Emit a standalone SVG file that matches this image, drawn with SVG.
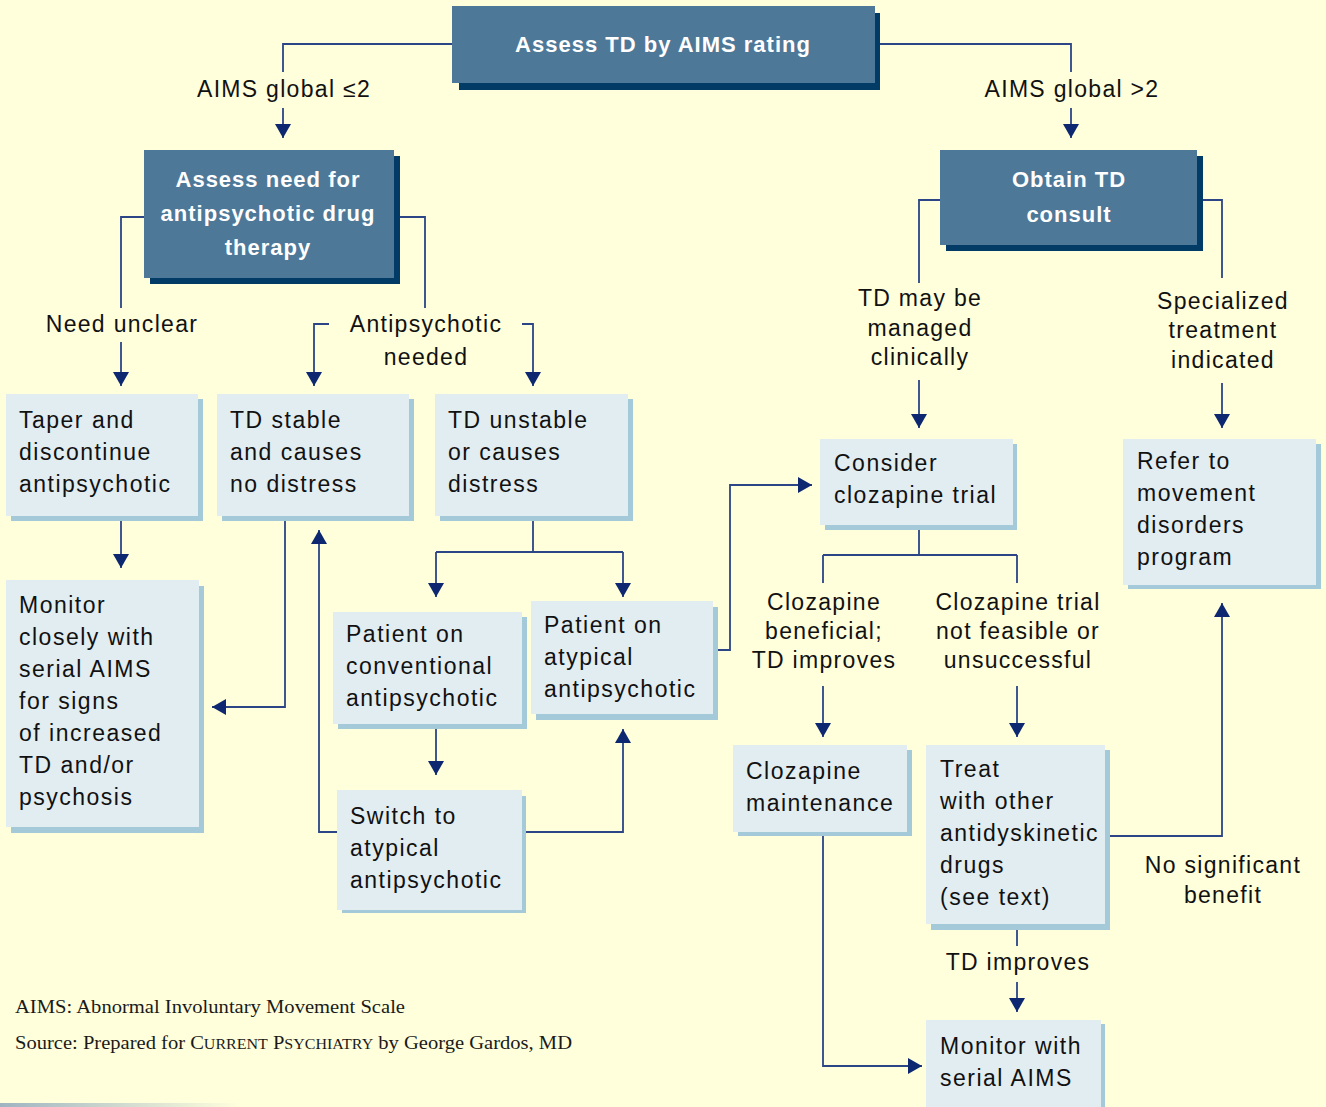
<svg xmlns="http://www.w3.org/2000/svg" width="1326" height="1107" viewBox="0 0 1326 1107">
<style>
.dk{fill:#4E7898}
.dks{fill:#023C66}
.lt{fill:#E2EDF1}
.lts{fill:#A4C9D8}
.wt{font-family:"Liberation Sans",Arial,sans-serif;font-size:22px;font-weight:bold;fill:#ffffff;letter-spacing:1px;text-anchor:middle}
.bt{font-family:"Liberation Sans",Arial,sans-serif;font-size:23px;fill:#111111;letter-spacing:1.5px}
.lb{font-family:"Liberation Sans",Arial,sans-serif;font-size:23px;fill:#111111;letter-spacing:1.3px;text-anchor:middle}
.ft{font-family:"Liberation Serif","Times New Roman",serif;font-size:18px;fill:#1a1a1a}
.c path{fill:none;stroke:#2B4586;stroke-width:1.8}
.c path.a{marker-end:url(#ah)}
</style>
<defs>
<marker id="ah" markerUnits="userSpaceOnUse" markerWidth="16" markerHeight="16" refX="14" refY="8" orient="auto">
<path d="M0,0 L14,8 L0,16 z" fill="#0D2870"/>
</marker>
<linearGradient id="bg" x1="0" y1="0" x2="1" y2="0">
<stop offset="0" stop-color="#9FB4C2"/>
<stop offset="1" stop-color="#FFFFDC"/>
</linearGradient>
</defs>
<rect x="0" y="0" width="1326" height="1107" fill="#FFFFDC"/>
<rect x="0" y="1103" width="240" height="4" fill="url(#bg)"/>

<g class="c">
<path d="M452,44 H283 V72"/>
<path class="a" d="M283,108 V138"/>
<path d="M875,44 H1071 V72"/>
<path class="a" d="M1071,108 V138"/>
<path d="M144,217 H121 V308"/>
<path class="a" d="M121,342 V386"/>
<path d="M394,217 H425 V308"/>
<path class="a" d="M329,324 H314 V386"/>
<path class="a" d="M522,324 H533 V386"/>
<path d="M940,200 H919 V283"/>
<path class="a" d="M919,380 V428"/>
<path d="M1197,200 H1222 V278"/>
<path class="a" d="M1222,383 V428"/>
<path class="a" d="M121,521 V568"/>
<path class="a" d="M285,521 V707 H212"/>
<path class="a" d="M337,832 H319 V530"/>
<path d="M533,521 V552 M436,552 H623"/>
<path class="a" d="M436,552 V597"/>
<path class="a" d="M623,552 V597"/>
<path class="a" d="M436,729 V775"/>
<path class="a" d="M526,832 H623 V729"/>
<path class="a" d="M718,650 H730 V485 H812"/>
<path d="M919,530 V555 M823,555 H1017 M823,555 V583 M1017,555 V583"/>
<path class="a" d="M823,686 V737"/>
<path class="a" d="M1017,686 V737"/>
<path d="M1017,930 V946"/>
<path class="a" d="M1017,982 V1012"/>
<path class="a" d="M1110,836 H1222 V603"/>
<path class="a" d="M823,836 V1066 H922"/>
</g>

<g id="labels">
<text class="lb" x="284" y="97">AIMS global ≤2</text>
<text class="lb" x="1072" y="97">AIMS global &gt;2</text>
<text class="lb" x="122" y="332">Need unclear</text>
<text class="lb" x="426" y="332">Antipsychotic</text>
<text class="lb" x="426" y="365">needed</text>
<text class="lb" x="920" y="306">TD may be</text>
<text class="lb" x="920" y="336">managed</text>
<text class="lb" x="920" y="365">clinically</text>
<text class="lb" x="1223" y="309">Specialized</text>
<text class="lb" x="1223" y="338">treatment</text>
<text class="lb" x="1223" y="368">indicated</text>
<text class="lb" x="824" y="610">Clozapine</text>
<text class="lb" x="824" y="639">beneficial;</text>
<text class="lb" x="824" y="668">TD improves</text>
<text class="lb" x="1018" y="610">Clozapine trial</text>
<text class="lb" x="1018" y="639">not feasible or</text>
<text class="lb" x="1018" y="668">unsuccessful</text>
<text class="lb" x="1018" y="970">TD improves</text>
<text class="lb" x="1223" y="873">No significant</text>
<text class="lb" x="1223" y="903">benefit</text>
</g>

<g id="n-assess-td">
<rect class="dks" x="459" y="13" width="421" height="77"/>
<rect class="dk" x="452" y="6" width="423" height="77"/>
<text class="wt" x="663" y="52">Assess TD by AIMS rating</text>
</g>
<g id="n-assess-need">
<rect class="dks" x="150" y="156" width="250" height="128"/>
<rect class="dk" x="144" y="150" width="250" height="128"/>
<text class="wt" x="268" y="187">Assess need for</text>
<text class="wt" x="268" y="221">antipsychotic drug</text>
<text class="wt" x="268" y="255">therapy</text>
</g>
<g id="n-obtain">
<rect class="dks" x="946" y="156" width="257" height="95"/>
<rect class="dk" x="940" y="150" width="257" height="95"/>
<text class="wt" x="1069" y="187">Obtain TD</text>
<text class="wt" x="1069" y="222">consult</text>
</g>

<g id="n-taper">
<rect class="lts" x="11" y="399" width="192" height="122"/>
<rect class="lt" x="6" y="394" width="192" height="122"/>
<text class="bt" x="19" y="428">Taper and</text>
<text class="bt" x="19" y="460">discontinue</text>
<text class="bt" x="19" y="492">antipsychotic</text>
</g>
<g id="n-stable">
<rect class="lts" x="222" y="399" width="192" height="122"/>
<rect class="lt" x="217" y="394" width="192" height="122"/>
<text class="bt" x="230" y="428">TD stable</text>
<text class="bt" x="230" y="460">and causes</text>
<text class="bt" x="230" y="492">no distress</text>
</g>
<g id="n-unstable">
<rect class="lts" x="440" y="399" width="193" height="122"/>
<rect class="lt" x="435" y="394" width="193" height="122"/>
<text class="bt" x="448" y="428">TD unstable</text>
<text class="bt" x="448" y="460">or causes</text>
<text class="bt" x="448" y="492">distress</text>
</g>
<g id="n-monitor-closely">
<rect class="lts" x="11" y="586" width="193" height="247"/>
<rect class="lt" x="6" y="580" width="193" height="247"/>
<text class="bt" x="19" y="613">Monitor</text>
<text class="bt" x="19" y="645">closely with</text>
<text class="bt" x="19" y="677">serial AIMS</text>
<text class="bt" x="19" y="709">for signs</text>
<text class="bt" x="19" y="741">of increased</text>
<text class="bt" x="19" y="773">TD and/or</text>
<text class="bt" x="19" y="805">psychosis</text>
</g>
<g id="n-conventional">
<rect class="lts" x="338" y="617" width="189" height="112"/>
<rect class="lt" x="333" y="612" width="189" height="112"/>
<text class="bt" x="346" y="642">Patient on</text>
<text class="bt" x="346" y="674">conventional</text>
<text class="bt" x="346" y="706">antipsychotic</text>
</g>
<g id="n-atypical">
<rect class="lts" x="536" y="607" width="182" height="113"/>
<rect class="lt" x="531" y="601" width="182" height="113"/>
<text class="bt" x="544" y="633">Patient on</text>
<text class="bt" x="544" y="665">atypical</text>
<text class="bt" x="544" y="697">antipsychotic</text>
</g>
<g id="n-switch">
<rect class="lts" x="342" y="796" width="184" height="117"/>
<rect class="lt" x="337" y="790" width="185" height="120"/>
<text class="bt" x="350" y="824">Switch to</text>
<text class="bt" x="350" y="856">atypical</text>
<text class="bt" x="350" y="888">antipsychotic</text>
</g>
<g id="n-consider">
<rect class="lts" x="825" y="444" width="192" height="86"/>
<rect class="lt" x="820" y="439" width="193" height="86"/>
<text class="bt" x="834" y="471">Consider</text>
<text class="bt" x="834" y="503">clozapine trial</text>
</g>
<g id="n-refer">
<rect class="lts" x="1128" y="444" width="193" height="145"/>
<rect class="lt" x="1123" y="439" width="193" height="146"/>
<text class="bt" x="1137" y="469">Refer to</text>
<text class="bt" x="1137" y="501">movement</text>
<text class="bt" x="1137" y="533">disorders</text>
<text class="bt" x="1137" y="565">program</text>
</g>
<g id="n-maintenance">
<rect class="lts" x="738" y="750" width="174" height="86"/>
<rect class="lt" x="733" y="745" width="174" height="87"/>
<text class="bt" x="746" y="779">Clozapine</text>
<text class="bt" x="746" y="811">maintenance</text>
</g>
<g id="n-treat">
<rect class="lts" x="931" y="750" width="179" height="180"/>
<rect class="lt" x="926" y="745" width="179" height="179"/>
<text class="bt" x="940" y="777">Treat</text>
<text class="bt" x="940" y="809">with other</text>
<text class="bt" x="940" y="841">antidyskinetic</text>
<text class="bt" x="940" y="873">drugs</text>
<text class="bt" x="940" y="905">(see text)</text>
</g>
<g id="n-monitor-serial">
<rect class="lts" x="930" y="1024" width="175" height="90"/>
<rect class="lt" x="926" y="1020" width="175" height="90"/>
<text class="bt" x="940" y="1054">Monitor with</text>
<text class="bt" x="940" y="1086">serial AIMS</text>
</g>

<g id="footer">
<text class="ft" x="15" y="1013" textLength="390" lengthAdjust="spacingAndGlyphs">AIMS: Abnormal Involuntary Movement Scale</text>
<text class="ft" x="15" y="1049" textLength="557" lengthAdjust="spacingAndGlyphs">Source: Prepared for C<tspan font-size="14">URRENT</tspan> P<tspan font-size="14">SYCHIATRY</tspan> by George Gardos, MD</text>
</g>
</svg>
